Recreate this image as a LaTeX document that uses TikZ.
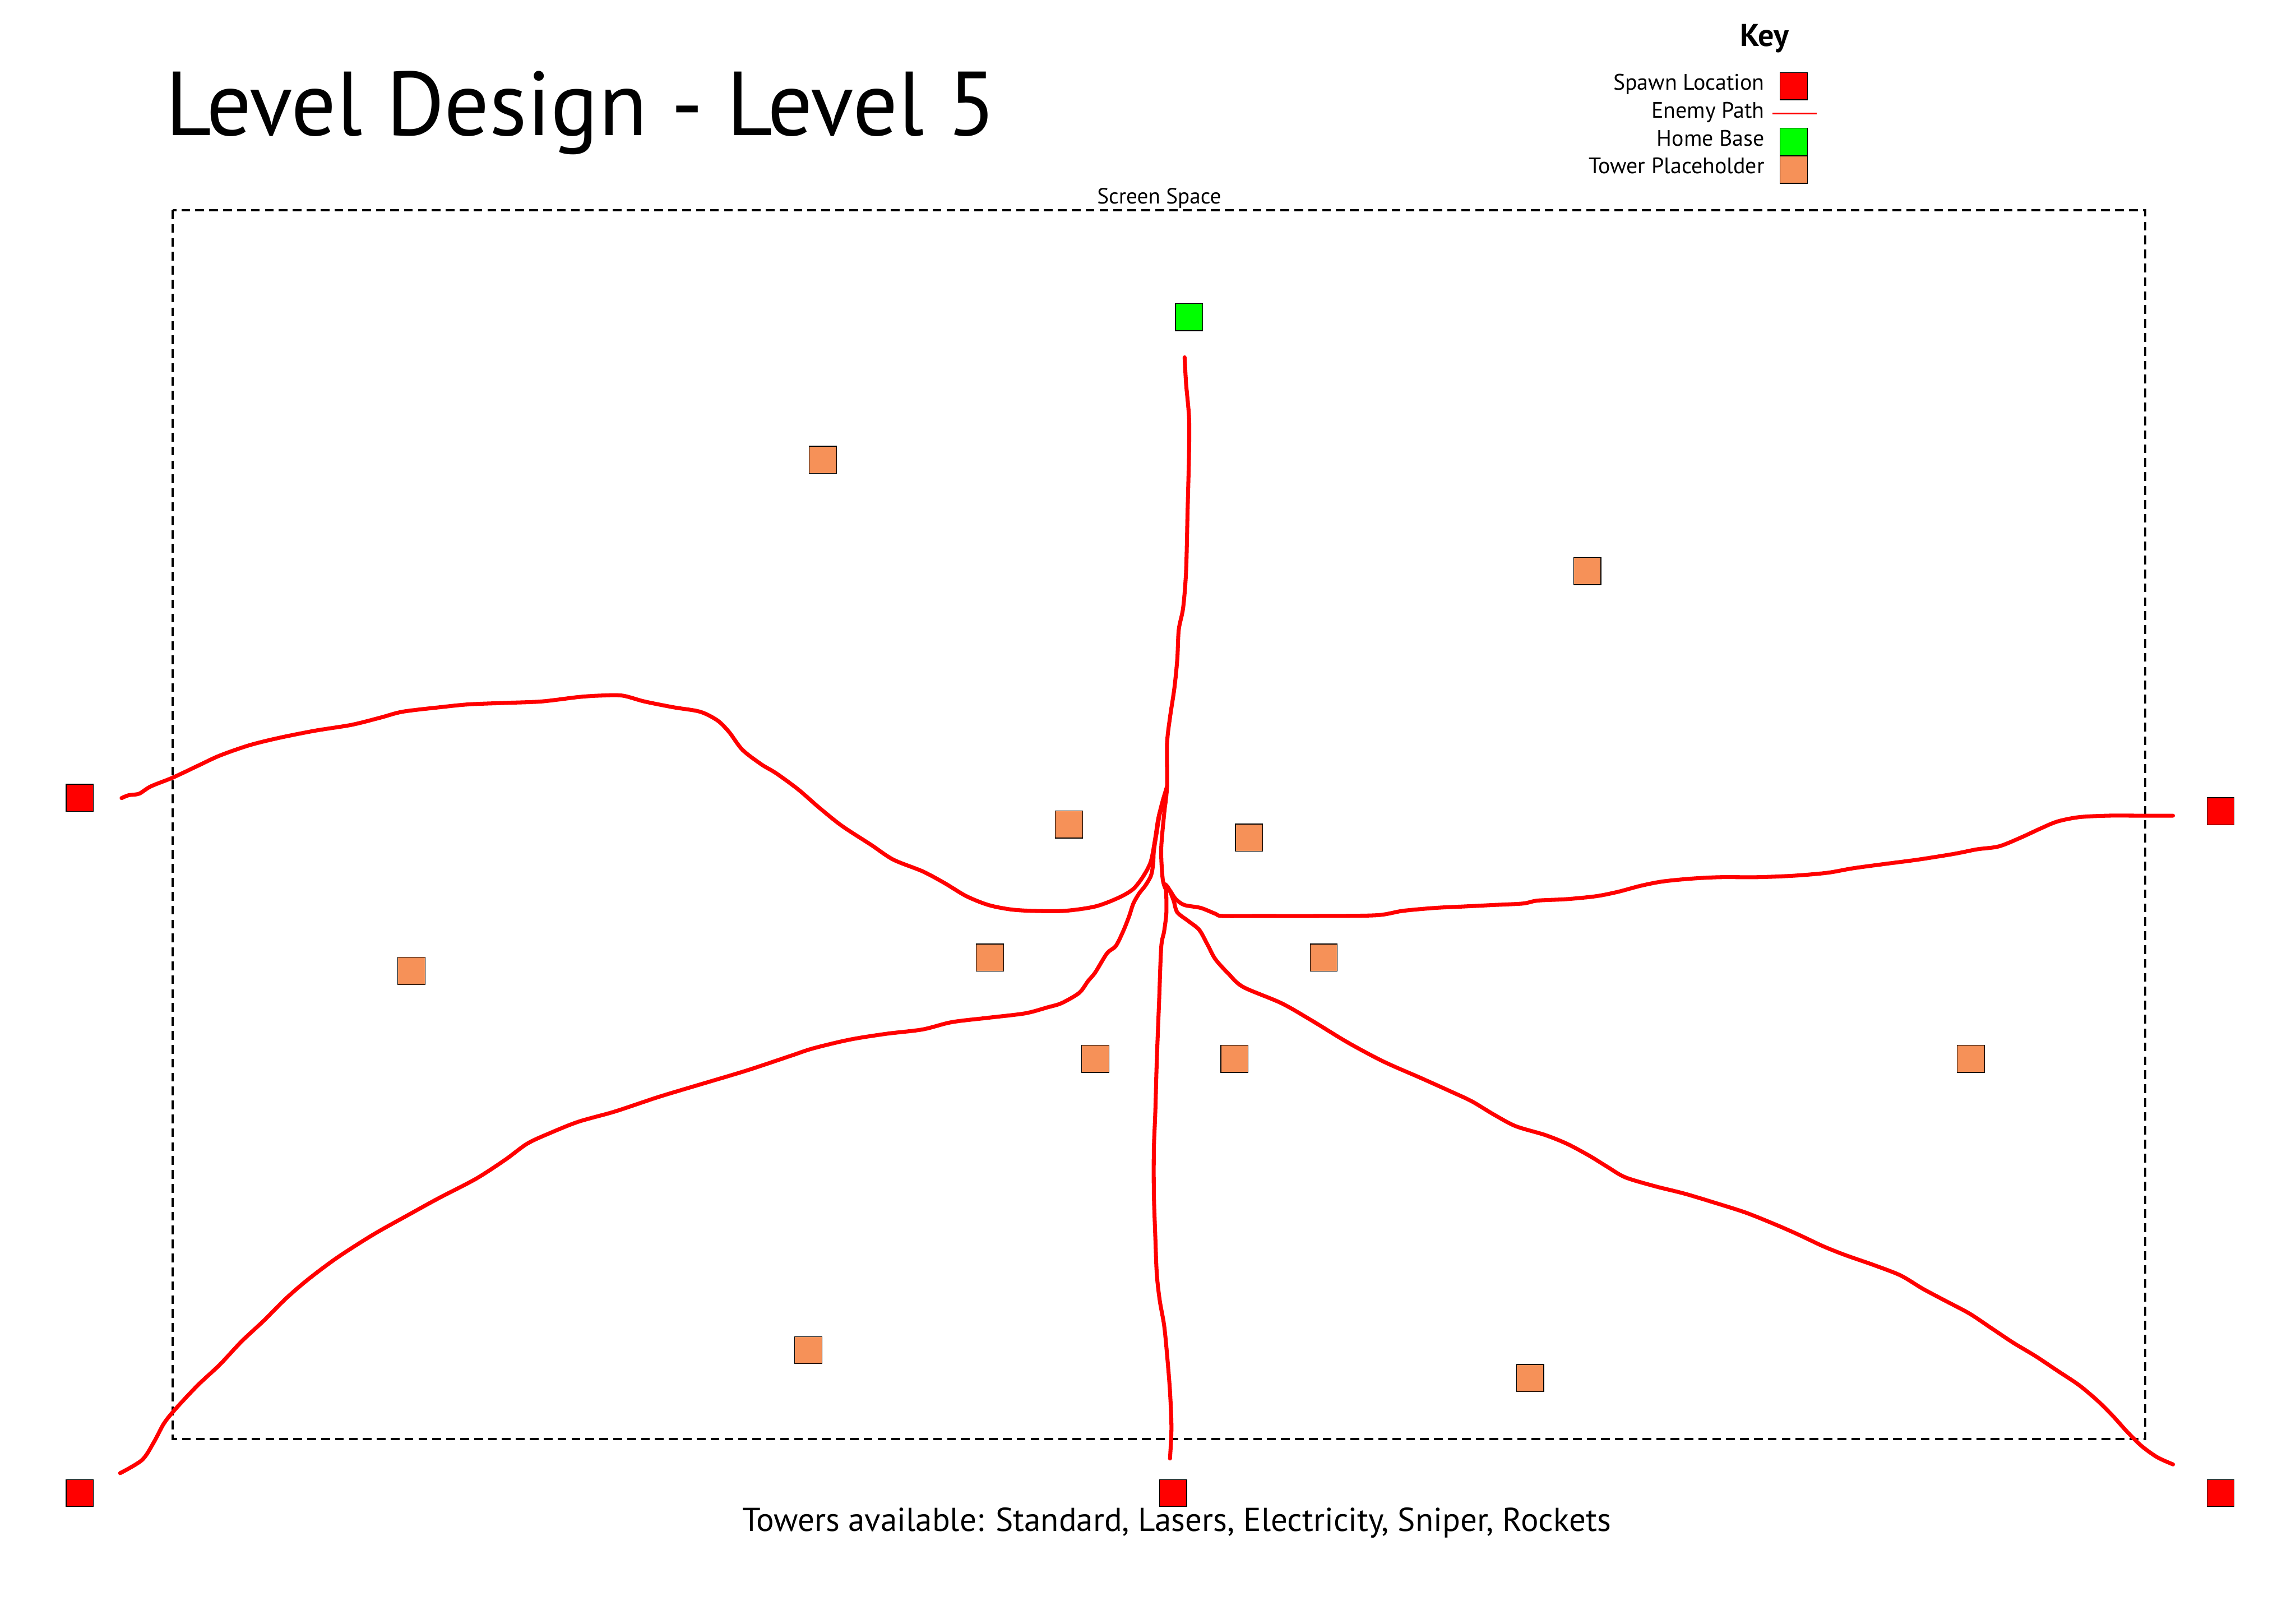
\documentclass[tikz,border=0pt]{standalone}
\usepackage{fontspec}
\setmainfont{PT Sans}
\definecolor{spawnred}{RGB}{255,0,0}
\definecolor{homegreen}{RGB}{0,255,0}
\definecolor{towerorange}{RGB}{246,145,88}
\definecolor{pathred}{RGB}{255,0,0}
\tikzset{
  sq/.style={draw=black, line width=0.5pt, minimum size=18.6pt, inner sep=0pt, outer sep=0pt},
  spawn/.style={sq, fill=spawnred},
  home/.style={sq, fill=homegreen},
  tower/.style={sq, fill=towerorange},
  enemy/.style={draw=pathred, line width=2.7pt, line cap=round, line join=round},
  screenbox/.style={draw=black, line width=1.5pt, dash pattern=on 6pt off 3.5pt},
  txt/.style={inner sep=0pt, outer sep=0pt},
  keytxt/.style={txt, anchor=base east, font=\fontsize{15.3}{18}\selectfont},
}
\begin{document}
\begin{tikzpicture}[x=1pt,y=-1pt]
\useasboundingbox (0,0) rectangle (1568,1108.75);
% title
\node[txt, anchor=base west, font=\fontsize{62}{74}\selectfont] (title) at (113,92.5) {\scalebox{0.98}[1]{Level Design - Level 5}};
% key
\node[txt, anchor=base, font=\fontsize{21.5}{26}\selectfont\bfseries] (keytitle) at (1205,31.6) {Key};
\node[keytxt] (k1) at (1205,61.6) {Spawn Location};
\node[keytxt] (k2) at (1205,80.6) {Enemy Path};
\node[keytxt] (k3) at (1205,99.6) {Home Base};
\node[keytxt] (k4) at (1205,118.5) {Tower Placeholder};
\node[spawn] (ks) at (1225,58.8) {};
\coordinate (kla) at (1210.5,77.5);
\coordinate (klb) at (1240.6,77.5);
\draw[draw=pathred, line width=1.3pt] (kla) -- (klb);
\node[home] (kh) at (1225,96.9) {};
\node[tower] (kt) at (1225,115.9) {};
% screen space
\draw[screenbox] (118,143.5) rectangle (1465,982.7);
\node[txt, anchor=base, font=\fontsize{15}{18}\selectfont] (screenlabel) at (791.6,139) {Screen Space};
% bottom text
\node[txt, anchor=base, font=\fontsize{22.6}{27}\selectfont] (towers) at (803.5,1045.5) {Towers available: Standard, Lasers, Electricity, Sniper, Rockets};
% spawns and home
\node[spawn] (s1) at (54.5,544.8) {};
\node[spawn] (s2) at (54.5,1019.6) {};
\node[spawn] (s3) at (801.1,1019.6) {};
\node[spawn] (s4) at (1516.5,1019.6) {};
\node[spawn] (s5) at (1516.5,554) {};
\node[home] (home) at (812.1,216.6) {};
% towers
\node[tower] (t1) at (562,314) {};
\node[tower] (t2) at (1084,390) {};
\node[tower] (t3) at (730,563) {};
\node[tower] (t4) at (853,572) {};
\node[tower] (t5) at (281,663) {};
\node[tower] (t6) at (676,654) {};
\node[tower] (t7) at (904,654) {};
\node[tower] (t8) at (748,723) {};
\node[tower] (t9) at (843,723) {};
\node[tower] (t10) at (1346,723) {};
\node[tower] (t11) at (552,922) {};
\node[tower] (t12) at (1045,941) {};
% enemy paths
\draw[enemy] plot[smooth, tension=0.5] coordinates {(809,244) (810,262) (812,285) (812,310) (811,350) (810,390) (808,415) (805,430) (804,450) (802,470) (799,490) (797,508) (797,537) (795,556) (793,580) (794,600) (796,607)};
\draw[enemy] plot[smooth, tension=0.5] coordinates {(83,545) (88,543) (95,542) (103,537) (118,531) (135,523) (150,516) (170,509) (190,504) (215,499) (240,495) (260,490) (275,486) (300,483) (320,481) (345,480) (370,479) (395,476) (410,475) (425,475) (440,479) (460,483) (478,486) (490,492) (498,500) (507,512) (520,522) (530,528) (545,539) (560,552) (575,564) (595,577) (610,587) (630,595) (645,603) (660,612) (675,618) (690,621) (705,622) (727,622) (748,619) (764,613) (774,607) (781,598) (786,588) (789,572) (791,559) (794,547) (797,537)};
\draw[enemy] plot[smooth, tension=0.5] coordinates {(82,1006) (97,997) (105,985) (112,972) (120,962) (135,946) (150,932) (165,916) (180,902) (195,887) (210,874) (230,859) (255,843) (280,829) (300,818) (325,805) (345,792) (360,781) (375,774) (395,766) (420,759) (450,749) (480,740) (510,731) (540,721) (555,716) (580,710) (605,706) (630,703) (650,698) (675,695) (700,692) (715,688) (725,685) (737,678) (743,670) (748,664) (756,651) (762,646) (767,636) (771,626) (774,617) (778,610) (782,605) (786,598) (787.5,590) (788,581) (790,568) (792,556) (795,546)};
\draw[enemy] plot[smooth, tension=0.5] coordinates {(799,996) (800,975) (799,950) (797,925) (795,905) (792,888) (790,870) (789,845) (788,815) (788,785) (789,759) (790,724) (791.6,683) (793,647) (795,636) (796.5,624) (796.5,612) (796,604)};
\draw[enemy] plot[smooth, tension=0.5] coordinates {(1484,1000) (1473,995) (1462,987) (1452,977) (1443,967) (1433,957) (1420,946) (1405,936) (1390,926) (1375,917) (1360,907) (1345,897) (1328,888) (1313,880) (1298,871) (1280,864) (1260,857) (1245,851) (1228,843) (1212,836) (1192,828) (1170,821) (1150,815) (1130,810) (1110,804) (1098,797) (1085,789) (1070,781) (1055,775) (1035,769) (1020,761) (1005,752) (990,745) (970,736) (945,725) (920.6,712) (896,697) (875,685) (849,674) (839,665) (830,655) (824.6,645) (819,635) (811.6,629) (804,623) (801.5,615) (798.7,608) (796,604)};
\draw[enemy] plot[smooth, tension=0.5] coordinates {(1484,557) (1460,557) (1440,557) (1420,558) (1405,561) (1393,566) (1380,572) (1365,578) (1350,580) (1335,583) (1310,587) (1287,590) (1265,593) (1248,596) (1225,598) (1200,599) (1175,599) (1155,600) (1135,602) (1120,605) (1105,609) (1090,612) (1070,614) (1050,615) (1040,617) (1020,618) (1000,619) (980,620) (958,622) (940,625) (900,625.5) (860,625.5) (834.7,625.5) (830,624) (820,620) (808.8,618) (803,614) (799.6,609) (797,605)};
\end{tikzpicture}
\end{document}
